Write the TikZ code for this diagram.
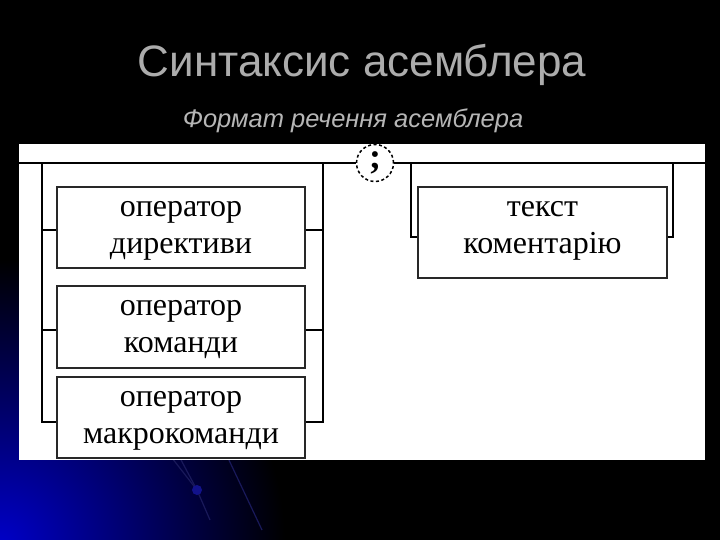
\documentclass[tikz,border=0pt]{standalone}
\usepackage{fontspec}
\setmainfont{Liberation Serif}
\newfontfamily\sansf{Liberation Sans}
\usetikzlibrary{shapes.geometric}
\definecolor{titlegray}{RGB}{172,172,172}
\definecolor{subgray}{RGB}{182,182,182}
\definecolor{deepblue}{RGB}{0,0,200}
\definecolor{faintblue}{RGB}{25,25,90}
\definecolor{boxline}{RGB}{40,40,40}
\tikzset{
  opbox/.style={draw=boxline, line width=1.4pt, fill=white, inner sep=0pt,
    minimum width=248pt, align=center, font=\fontsize{32}{37}\selectfont},
  conn/.style={line width=2.2pt, black},
}
\begin{document}
\begin{tikzpicture}[x=1pt,y=-1pt]
\useasboundingbox (0,0) rectangle (720,540);
% background
\fill[black] (0,0) rectangle (720,540);
\begin{scope}
\clip (0,0) rectangle (720,540);
\shade[inner color=deepblue, outer color=black] (0,545) circle (285);
\draw[faintblue, line width=1.2pt] (172,458) -- (197,490) -- (210,520);
\draw[faintblue, line width=1.2pt] (180,458) -- (197,490);
\draw[faintblue, line width=1.2pt] (228,458) -- (262,530);
\fill[faintblue!70!blue] (197,490) circle (5);
\end{scope}
% titles
\node[text=titlegray, font=\sansf\fontsize{44}{50}\selectfont, anchor=base] (title) at (362,77) {Синтаксис асемблера};
\node[text=subgray, font=\sansf\itshape\fontsize{25.5}{30}\selectfont, anchor=base] (sub) at (353,128) {Формат речення асемблера};
% panel
\fill[white] (19,144) rectangle (705,460);
% boxes
\node[opbox, minimum height=81pt] (b1) at (181,227.5) {\strut оператор\\\strut директиви};
\node[opbox, minimum height=82pt] (b2) at (181,327) {\strut оператор\\\strut команди};
\node[opbox, minimum height=81pt] (b3) at (181,417.5) {\strut оператор\\\strut макрокоманди};
\node[opbox, minimum width=249pt, minimum height=91pt] (b4) at (542.5,232.5) {\strut текст\\\strut коментарію\rule[-20pt]{0pt}{0pt}};
\node[circle, draw=black, dashed, dash pattern=on 3pt off 2.5pt, line width=1.5pt, minimum size=37pt, inner sep=0pt, fill=white,
  font=\bfseries\fontsize{36}{36}\selectfont] (semi) at (375,163) {\raisebox{2pt}{;}};
% coordinates
\coordinate (pl) at (19,163);
\coordinate (pr) at (705,163);
\coordinate (lt) at (42,163);
\coordinate (lb) at (42,422);
\coordinate (rt) at (323,163);
\coordinate (rb) at (323,422);
\coordinate (ct) at (411,163);
\coordinate (cb) at (411,237);
\coordinate (dt) at (673,163);
\coordinate (db) at (673,237);
% connectors
\draw[conn] (pl) -- (semi.west);
\draw[conn] (semi.east) -- (pr);
\draw[conn] (lt) -- (lb) -- (lb -| b3.west);
\draw[conn] (rt) -- (rb) -- (rb -| b3.east);
\draw[conn] (42,230) -- (b1.west |- 0,230);
\draw[conn] (b1.east |- 0,230) -- (323,230);
\draw[conn] (42,330) -- (b2.west |- 0,330);
\draw[conn] (b2.east |- 0,330) -- (323,330);
\draw[conn] (ct) -- (cb) -- (cb -| b4.west);
\draw[conn] (dt) -- (db) -- (db -| b4.east);
\end{tikzpicture}
\end{document}
